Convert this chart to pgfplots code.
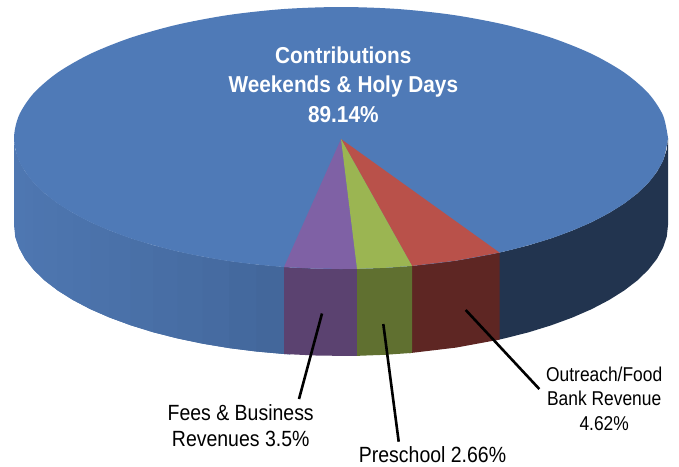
\documentclass[border=0pt]{standalone}
\usepackage{pgfplots}
\pgfplotsset{compat=1.18}
\usepackage{fontspec}
\setmainfont{Liberation Sans}
\definecolor{topblue}{HTML}{4F7AB7}
\definecolor{sideL}{HTML}{4F78B2}
\definecolor{sideR}{HTML}{42669A}
\definecolor{navy}{HTML}{22344F}
\definecolor{toppurple}{HTML}{7F61A5}
\definecolor{topgreen}{HTML}{9BB552}
\definecolor{topred}{HTML}{B9514A}
\definecolor{sidepurple}{HTML}{5B4270}
\definecolor{sidegreen}{HTML}{607030}
\definecolor{sidered}{HTML}{5E2623}
\newcommand\strip[2]{\addplot[fill=sideR!#1!sideL,draw=none,forget plot] coordinates {#2};}
\tikzset{
  boldlab/.style={white,anchor=base,xscale=0.904,transform shape,font=\fontsize{23}{28}\selectfont\bfseries},
  lab/.style={black,anchor=base,xscale=0.885,transform shape,font=\fontsize{22}{26}\selectfont},
  smalllab/.style={black,anchor=base,xscale=0.87,transform shape,font=\fontsize{20}{24}\selectfont}}
\begin{document}
\begin{tikzpicture}
\begin{axis}[
  scale only axis, width=679pt, height=466pt,
  xmin=0, xmax=679, ymin=0, ymax=466, y dir=reverse,
  hide axis, clip=false, no markers]
\path (rel axis cs:0,0) rectangle (rel axis cs:1,1);
% side of the blue slice, left part (each strip runs under the next one)
\strip{0}{(14,138)(15.2,149.4)(19,160.7)(19,247.7)(15.2,236.4)(14,225)}
\strip{3}{(15.2,149.4)(19,160.7)(25.1,171.9)(25.1,258.9)(19,247.7)(15.2,236.4)}
\strip{6}{(19,160.7)(25.1,171.9)(33.7,182.8)(33.7,269.8)(25.1,258.9)(19,247.7)}
\strip{10}{(25.1,171.9)(33.7,182.8)(44.6,193.4)(44.6,280.4)(33.7,269.8)(25.1,258.9)}
\strip{14}{(33.7,182.8)(44.6,193.4)(57.8,203.5)(57.8,290.5)(44.6,280.4)(33.7,269.8)}
\strip{18}{(44.6,193.4)(57.8,203.5)(73.1,213.1)(73.1,300.1)(57.8,290.5)(44.6,280.4)}
\strip{22}{(57.8,203.5)(73.1,213.1)(90.5,222.2)(90.5,309.2)(73.1,300.1)(57.8,290.5)}
\strip{27}{(73.1,213.1)(90.5,222.2)(109.8,230.6)(109.8,317.6)(90.5,309.2)(73.1,300.1)}
\strip{32}{(90.5,222.2)(109.8,230.6)(130.8,238.3)(130.8,325.3)(109.8,317.6)(90.5,309.2)}
\strip{38}{(109.8,230.6)(130.8,238.3)(153.4,245.3)(153.4,332.3)(130.8,325.3)(109.8,317.6)}
\strip{45}{(130.8,238.3)(153.4,245.3)(177.5,251.4)(177.5,338.4)(153.4,332.3)(130.8,325.3)}
\strip{53}{(153.4,245.3)(177.5,251.4)(202.8,256.7)(202.8,343.7)(177.5,338.4)(153.4,332.3)}
\strip{62}{(177.5,251.4)(202.8,256.7)(229.2,261.1)(229.2,348.1)(202.8,343.7)(177.5,338.4)}
\strip{72}{(202.8,256.7)(229.2,261.1)(256.4,264.5)(256.4,351.5)(229.2,348.1)(202.8,343.7)}
\strip{84}{(229.2,261.1)(256.4,264.5)(284.2,267)(284.2,354)(256.4,351.5)(229.2,348.1)}
\strip{96}{(256.4,264.5)(284.2,267)(290,267.5)(290,354.5)(284.2,354)(256.4,351.5)}
% side of the blue slice, right part
\addplot[fill=navy,draw=none,forget plot] coordinates {
 (495,253.5)(504.5,251.4)(528.6,245.3)(551.2,238.3)(572.2,230.6)(591.5,222.2)(608.9,213.1)(624.2,203.5)(637.4,193.4)(648.3,182.8)(656.9,171.9)(663,160.7)(666.8,149.4)(668,138)
 (668,225)(666.8,236.4)(663,247.7)(656.9,258.9)(648.3,269.8)(637.4,280.4)(624.2,290.5)(608.9,300.1)(591.5,309.2)(572.2,317.6)(551.2,325.3)(528.6,332.3)(504.5,338.4)(495,340.5)};
% side faces
\addplot[fill=sidepurple,draw=none,forget plot] coordinates {(284,267)(320,268.7)(360,268.84)(360,355.84)(320,355.7)(284,354)};
\addplot[fill=sidered,draw=none,forget plot] coordinates {(409,266.2)(456,260.6)(499.5,252.6)(499.5,339.6)(456,347.6)(409,353.2)};
\addplot[fill=sidegreen,draw=none,forget plot] coordinates {(357,268.84)(385,267.8)(412,265.9)(412,352.9)(385,354.8)(357,355.84)};
% top
\addplot[fill=topblue,draw=none,smooth,forget plot] coordinates {
 (668,138)(663,160.7)(648.3,182.8)(624.2,203.5)(591.5,222.2)(551.2,238.3)(504.5,251.4)(452.8,261.1)(397.8,267)(341,269)
 (284.2,267)(229.2,261.1)(177.5,251.4)(130.8,238.3)(90.5,222.2)(57.8,203.5)(33.7,182.8)(19,160.7)(14,138)
 (19,115.3)(33.7,93.2)(57.8,72.5)(90.5,53.8)(130.8,37.7)(177.5,24.6)(229.2,14.9)(284.2,9)(341,7)
 (397.8,9)(452.8,14.9)(504.5,24.6)(551.2,37.7)(591.5,53.8)(624.2,72.5)(648.3,93.2)(663,115.3)(668,138)};
\addplot[fill=toppurple,draw=none,forget plot] coordinates {(341,139)(284,267)(320,268.7)(357,268.84)};
\addplot[fill=topred,draw=none,forget plot] coordinates {(341,139)(412,265.9)(456,260.6)(499.5,252.6)};
\addplot[fill=topgreen,draw=none,forget plot] coordinates {(341,139)(357,268.84)(385,267.8)(412,265.9)};
% leaders
\addplot[black,line width=2.6pt,forget plot] coordinates {(322,313.5)(299,399)};
\addplot[black,line width=2.6pt,forget plot] coordinates {(383.3,324)(398.7,441.7)};
\addplot[black,line width=2.6pt,forget plot] coordinates {(465.7,310)(539.3,389)};
% labels
\node[boldlab] at (axis cs:343.3,63) {Contributions};
\node[boldlab] at (axis cs:343.3,92.7) {Weekends \& Holy Days};
\node[boldlab] at (axis cs:343.3,122) {89.14\%};
\node[lab] at (axis cs:240.7,420) {Fees \& Business};
\node[lab] at (axis cs:240.7,446.5) {Revenues 3.5\%};
\node[lab] at (axis cs:432.5,462) {Preschool 2.66\%};
\node[smalllab] at (axis cs:604.2,381.7) {Outreach/Food};
\node[smalllab] at (axis cs:604.2,405.9) {Bank Revenue};
\node[smalllab] at (axis cs:604.2,430.7) {4.62\%};
\end{axis}
\end{tikzpicture}
\end{document}
